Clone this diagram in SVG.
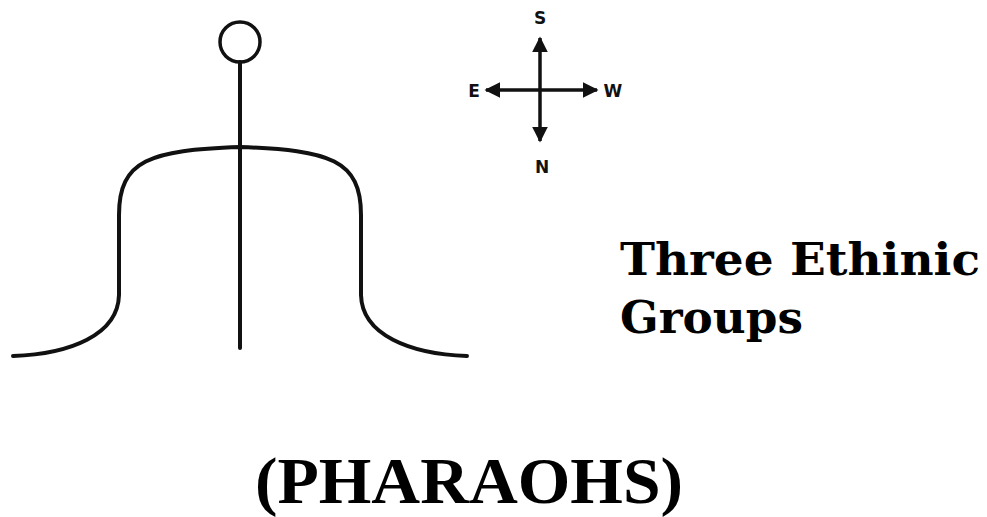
<svg xmlns="http://www.w3.org/2000/svg" width="987" height="517" viewBox="0 0 987 517">
<style>
.ln{fill:none;stroke:#111;stroke-width:4;stroke-linecap:round}
.ax{fill:none;stroke:#111;stroke-width:3.5}
.cl{font-family:"DejaVu Sans","Liberation Sans",sans-serif;font-weight:bold;font-size:17px;fill:#111;text-anchor:middle}
.t1{font-family:"DejaVu Serif","Liberation Serif",serif;font-weight:bold;font-size:45px;fill:#000}
.t2{font-family:"Liberation Serif","Times New Roman",serif;font-weight:bold;font-size:66px;fill:#000}
</style>
<defs>
<marker id="ah" viewBox="0 0 10 10" refX="9" refY="5" markerWidth="4.5" markerHeight="4.5" orient="auto" markerUnits="strokeWidth">
<path d="M0,0 L10,5 L0,10 z" fill="#111"/>
</marker>
</defs>
<rect width="987" height="517" fill="#fff"/>
<g id="symbol">
<circle class="ln" cx="240" cy="42" r="20" style="stroke-width:3.5"/>
<line class="ln" x1="240" y1="62" x2="240" y2="348"/>
<path class="ln" d="M13,356 C70,354 118,335 119,295 L119,215 C119,160 150,150 240,147 C330,150 361,160 361,215 L361,295 C362,335 410,354 467,356"/>
</g>
<g id="connectors">
<line class="ax" x1="540" y1="90" x2="540" y2="38" marker-end="url(#ah)"/>
<line class="ax" x1="540" y1="90" x2="540" y2="141" marker-end="url(#ah)"/>
<line class="ax" x1="540" y1="90" x2="486" y2="90" marker-end="url(#ah)"/>
<line class="ax" x1="540" y1="90" x2="597" y2="90" marker-end="url(#ah)"/>
</g>
<g id="compass-labels">
<text class="cl" x="540" y="24">S</text>
<text class="cl" x="474" y="97">E</text>
<text class="cl" x="613" y="97">W</text>
<text class="cl" x="542" y="173">N</text>
</g>
<g id="title">
<text class="t1" x="620" y="275" textLength="360" lengthAdjust="spacingAndGlyphs">Three Ethinic</text>
<text class="t1" x="620" y="333" textLength="183" lengthAdjust="spacingAndGlyphs">Groups</text>
</g>
<g id="caption">
<text class="t2" x="255" y="503" textLength="428" lengthAdjust="spacingAndGlyphs">(PHARAOHS)</text>
</g>
</svg>
